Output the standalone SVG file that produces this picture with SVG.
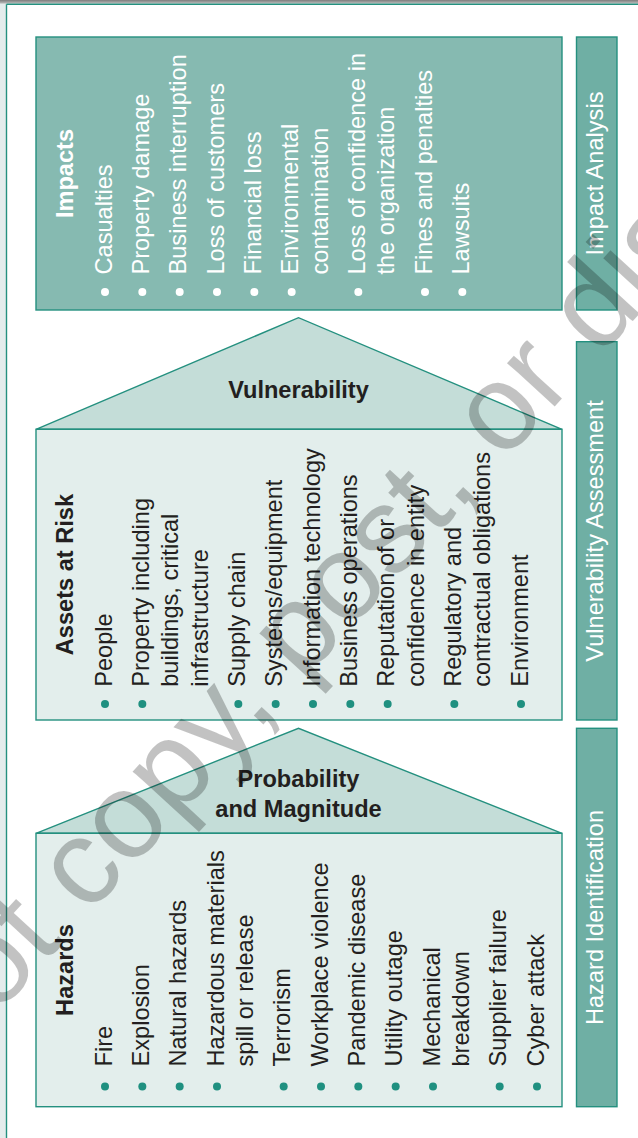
<svg xmlns="http://www.w3.org/2000/svg" width="638" height="1138" viewBox="0 0 638 1138">
  <defs>
    <linearGradient id="topShade" x1="0" y1="0" x2="0" y2="1">
      <stop offset="0" stop-color="#7c7c7c"/>
      <stop offset="1" stop-color="#bdbdbd"/>
    </linearGradient>
  </defs>
  <style>
    .edge { stroke: #24907f; stroke-width: 1.4; }
    .impactBox { fill: #86bab1; }
    .phaseBar { fill: #6fafa4; }
    .roof { fill: #c4ddd8; }
    .body { fill: #e3eeec; }
    text { font-family: "Liberation Sans", Arial, Helvetica, sans-serif; font-size: 23.6px; }
    .dark { fill: #231f20; }
    .light { fill: #ffffff; }
    .bold { font-weight: bold; }
    .mid { text-anchor: middle; }
    .dotTeal { fill: #1f9080; }
    .dotWhite { fill: #ffffff; }
    .mark { fill: #000000; fill-opacity: 0.24; font-size: 122px; }
  </style>

  <!-- page background and frame -->
  <rect x="0" y="0" width="638" height="1138" fill="#ffffff"/>
  <rect x="0" y="0" width="6.5" height="1138" fill="#e4ecec"/>
  <rect x="0" y="0" width="638" height="3.6" fill="url(#topShade)"/>
  <line class="edge" x1="6.5" y1="4.2" x2="638" y2="4.2"/>
  <line class="edge" x1="6.5" y1="4.2" x2="6.5" y2="1138"/>

  <!-- phase bars on the right -->
  <g id="phase-impact-analysis">
    <rect class="phaseBar edge" x="576.5" y="37" width="40.5" height="273"/>
    <text class="light mid" transform="translate(603 173.5) rotate(-90)" x="0" y="0">Impact Analysis</text>
  </g>
  <g id="phase-vulnerability-assessment">
    <rect class="phaseBar edge" x="576.5" y="341.7" width="40.5" height="378.3"/>
    <text class="light mid" transform="translate(603 531) rotate(-90)" x="0" y="0">Vulnerability Assessment</text>
  </g>
  <g id="phase-hazard-identification">
    <rect class="phaseBar edge" x="576.5" y="728.3" width="40.5" height="378.4"/>
    <text class="light mid" transform="translate(603 917.5) rotate(-90)" x="0" y="0">Hazard Identification</text>
  </g>

  <!-- Impacts box -->
  <g id="impacts">
    <rect class="impactBox edge" x="36" y="37" width="526" height="273"/>
    <g class="dotWhite">
      <circle cx="105" cy="292" r="4"/>
      <circle cx="142.33" cy="292" r="4"/>
      <circle cx="179.67" cy="292" r="4"/>
      <circle cx="217" cy="292" r="4"/>
      <circle cx="254.33" cy="292" r="4"/>
      <circle cx="291.67" cy="292" r="4"/>
      <circle cx="358.33" cy="292" r="4"/>
      <circle cx="425" cy="292" r="4"/>
      <circle cx="462.33" cy="292" r="4"/>
    </g>
    <g class="light" transform="translate(0 274.5) rotate(-90)">
      <text class="bold mid" x="101" y="72.8">Impacts</text>
      <text x="0" y="111.5">Casualties</text>
      <text x="0" y="148.83">Property damage</text>
      <text x="0" y="186.17">Business interruption</text>
      <text x="0" y="223.5">Loss of customers</text>
      <text x="0" y="260.83">Financial loss</text>
      <text x="0" y="298.17">Environmental</text>
      <text x="0" y="327.5">contamination</text>
      <text x="0" y="364.83">Loss of confidence in</text>
      <text x="0" y="394.17">the organization</text>
      <text x="0" y="431.5">Fines and penalties</text>
      <text x="0" y="468.83">Lawsuits</text>
    </g>
  </g>

  <!-- Vulnerability: roof over the assets at risk -->
  <g id="vulnerability">
    <polygon class="roof edge" points="36,429.3 298.5,317.7 562,429.3"/>
    <text class="dark bold mid" x="298.5" y="397.7">Vulnerability</text>
  </g>
  <g id="assets-at-risk">
    <rect class="body edge" x="36" y="429.3" width="526" height="290.7"/>
    <g class="dotTeal">
      <circle cx="105" cy="704" r="4"/>
      <circle cx="142.33" cy="704" r="4"/>
      <circle cx="238.33" cy="704" r="4"/>
      <circle cx="275.67" cy="704" r="4"/>
      <circle cx="313" cy="704" r="4"/>
      <circle cx="350.33" cy="704" r="4"/>
      <circle cx="387.67" cy="704" r="4"/>
      <circle cx="454.33" cy="704" r="4"/>
      <circle cx="521" cy="704" r="4"/>
    </g>
    <g class="dark" transform="translate(0 686.8) rotate(-90)">
      <text class="bold mid" x="112.2" y="73">Assets at Risk</text>
      <text x="0" y="111.5">People</text>
      <text x="0" y="148.83">Property including</text>
      <text x="0" y="178.17">buildings, critical</text>
      <text x="0" y="207.5">infrastructure</text>
      <text x="0" y="244.83">Supply chain</text>
      <text x="0" y="282.17">Systems/equipment</text>
      <text x="0" y="319.5">Information technology</text>
      <text x="0" y="356.83">Business operations</text>
      <text x="0" y="394.17">Reputation of or</text>
      <text x="0" y="423.5">confidence in entity</text>
      <text x="0" y="460.83">Regulatory and</text>
      <text x="0" y="490.17">contractual obligations</text>
      <text x="0" y="527.5">Environment</text>
    </g>
  </g>

  <!-- Probability and Magnitude: roof over the hazards -->
  <g id="probability-magnitude">
    <polygon class="roof edge" points="36,833.3 298.5,728.3 562,833.3"/>
    <text class="dark bold mid" x="298.5" y="787">Probability</text>
    <text class="dark bold mid" x="298.5" y="817">and Magnitude</text>
  </g>
  <g id="hazards">
    <rect class="body edge" x="36" y="833.3" width="526" height="273.4"/>
    <g class="dotTeal">
      <circle cx="105" cy="1086.5" r="4"/>
      <circle cx="142.33" cy="1086.5" r="4"/>
      <circle cx="179.67" cy="1086.5" r="4"/>
      <circle cx="217" cy="1086.5" r="4"/>
      <circle cx="283.67" cy="1086.5" r="4"/>
      <circle cx="321" cy="1086.5" r="4"/>
      <circle cx="358.33" cy="1086.5" r="4"/>
      <circle cx="395.67" cy="1086.5" r="4"/>
      <circle cx="433" cy="1086.5" r="4"/>
      <circle cx="499.67" cy="1086.5" r="4"/>
      <circle cx="537" cy="1086.5" r="4"/>
    </g>
    <g class="dark" transform="translate(0 1066.5) rotate(-90)">
      <text class="bold mid" x="96.5" y="73">Hazards</text>
      <text x="0" y="111.5">Fire</text>
      <text x="0" y="148.83">Explosion</text>
      <text x="0" y="186.17">Natural hazards</text>
      <text x="0" y="223.5">Hazardous materials</text>
      <text x="0" y="252.83">spill or release</text>
      <text x="0" y="290.17">Terrorism</text>
      <text x="0" y="327.5">Workplace violence</text>
      <text x="0" y="364.83">Pandemic disease</text>
      <text x="0" y="402.17">Utility outage</text>
      <text x="0" y="439.5">Mechanical</text>
      <text x="0" y="468.83">breakdown</text>
      <text x="0" y="506.17">Supplier failure</text>
      <text x="0" y="543.5">Cyber attack</text>
    </g>
  </g>

  <!-- diagonal notice printed across the page -->
  <text class="mark" transform="translate(-178 1206) rotate(-47.5)" x="0" y="0">Do not copy, post, or distribute</text>
</svg>
